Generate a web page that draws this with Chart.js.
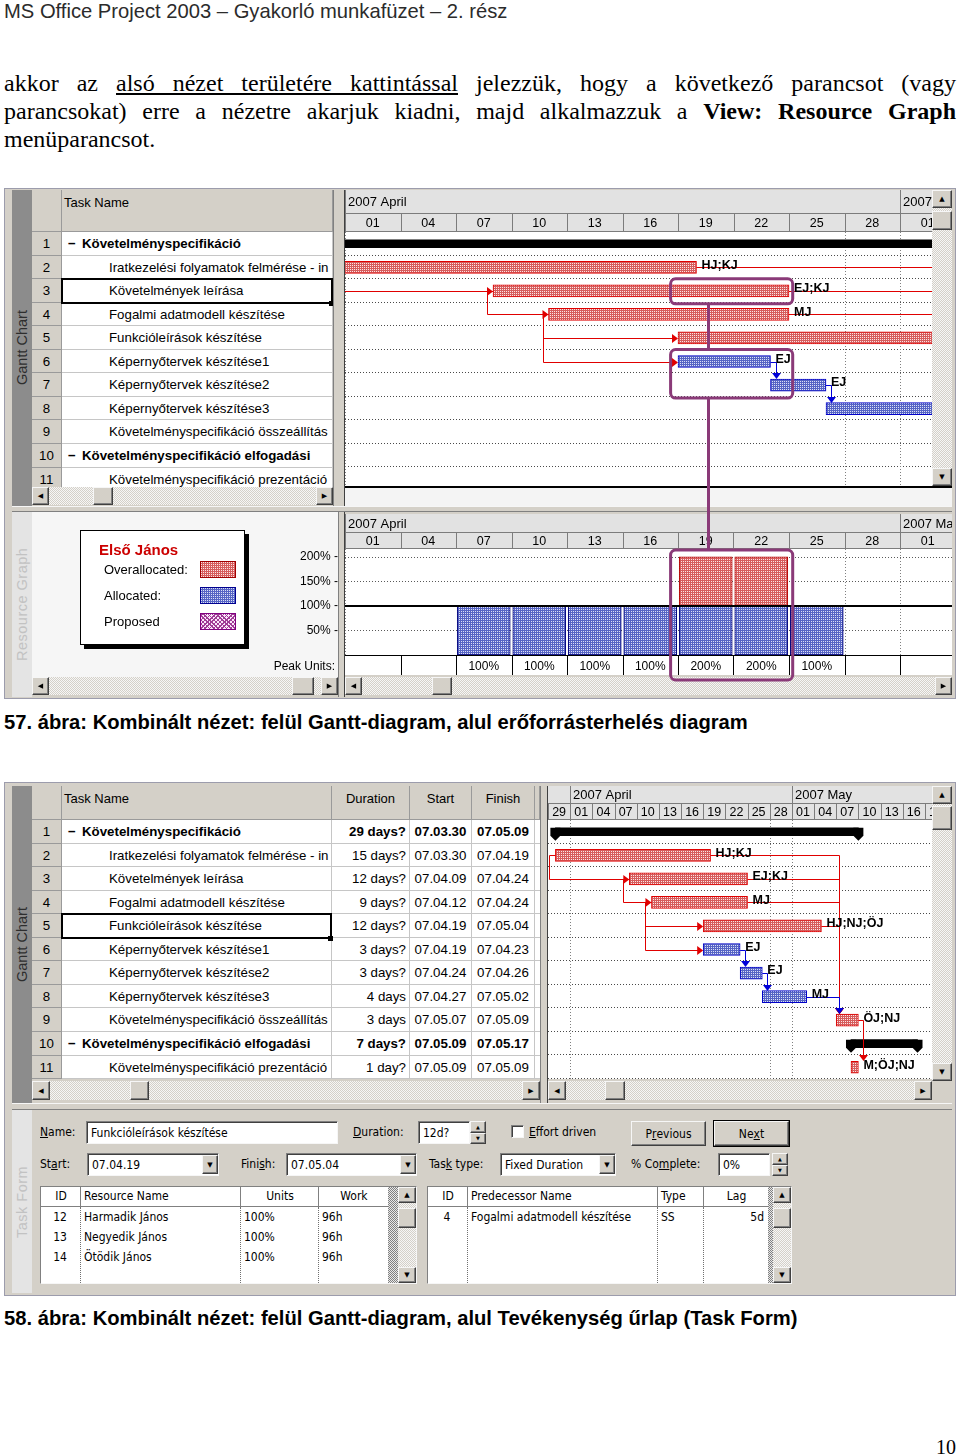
<!DOCTYPE html>
<html lang="hu">
<head>
<meta charset="utf-8">
<title>Kombinált nézet – Gantt-diagram és erőforrásterhelés</title>
<script src="https://cdn.jsdelivr.net/npm/chart.js@4.4.0/dist/chart.umd.min.js"></script>
<style>
  html, body { margin: 0; padding: 0; background: #fff; }
  body { position: relative; width: 960px; height: 1456px; overflow: hidden; font-family: "Liberation Sans", Arial, sans-serif; color: #000; }
  .abs { position: absolute; box-sizing: border-box; }
  .head { font-size: 20.2px; color: #2b2b2b; white-space: nowrap; line-height: 22px; }
  .para { font-family: "Liberation Serif", "Times New Roman", serif; font-size: 24px; line-height: 28px; text-align: justify; text-align-last: justify; }
  .para.last { text-align-last: left; }
  .caption { font-size: 20.2px; font-weight: bold; white-space: nowrap; line-height: 26px; }
  .pnum { font-family: "Liberation Serif", serif; font-size: 20px; }
  .frame { background: #d4d0c8; border: 1px solid #9c9cac; }
  .tab { font-size: 14.5px; display: flex; align-items: center; justify-content: center; writing-mode: vertical-rl; transform: rotate(180deg); white-space: nowrap; }
  .tabDark { background: #8c8c8c; color: #2e2e2e; }
  .tabLight { background: #e4e4e4; color: #c2c2c2; letter-spacing: 0.5px; }
  .tbl { overflow: hidden; background: #d4d0c8; }
  .hd { background: #d4d0c8; border-right: 1px solid #9a9a9a; border-bottom: 1px solid #9a9a9a; font-size: 13px; padding: 5px 2px 0; white-space: nowrap; overflow: hidden; }
  .hd.c { text-align: center; }
  .cell { background: #fff; border-right: 1px solid #c6c6c6; border-bottom: 1px solid #c6c6c6; font-size: 13.3px; white-space: nowrap; overflow: hidden; padding: 0 3px; }
  .cell.idc { background: #d4d0c8; border-color: #9a9a9a; text-align: center; font-weight: normal; }
  .cell.nm { padding-left: 47px; }
  .cell.nm.b { padding-left: 6px; }
  .cell.r { text-align: right; }
  .cell.c { text-align: center; padding: 0; }
  .b { font-weight: bold; }
  .minus { display: inline-block; width: 14px; }
  .sel { border: 2px solid #000; }
  .selh { background: #000; }
  .track { background: repeating-conic-gradient(#d4d0c8 0 25%, #f6f6f6 0 50%) 0 0 / 2px 2px; }
  .btn { background: #d4d0c8; border: 1px solid; border-color: #f6f6f6 #404040 #404040 #f6f6f6; box-shadow: inset -1px -1px 0 #808080; font-family: "DejaVu Sans", sans-serif; font-size: 7px; display: flex; align-items: center; justify-content: center; color: #000; }
  .frm { font-family: "DejaVu Sans Condensed", "Liberation Sans Narrow", "Liberation Sans", sans-serif; font-size: 12px; white-space: nowrap; line-height: 16px; }
  .field { background: #fff; border: 1px solid; border-color: #808080 #f6f6f6 #f6f6f6 #808080; box-shadow: inset 1px 1px 0 #404040; padding-left: 4px; display: flex; align-items: center; }
  .pbtn { background: #d4d0c8; border: 1px solid; border-color: #f6f6f6 #404040 #404040 #f6f6f6; box-shadow: inset -1px -1px 0 #808080; display: flex; align-items: center; justify-content: center; }
  .grid { background: #fff; border: 1px solid; border-color: #808080 #f6f6f6 #f6f6f6 #808080; }
  .gcol { border-left: 1px dotted #707070; }
  .legend { background: #fff; border: 1px solid #000; box-shadow: 4px 4px 0 #000; }
  .lg { font-size: 13px; white-space: nowrap; }
  .sw { border: 1px solid #a00000; }
</style>
</head>
<body>
<script>
// ---------- tasks ----------
const taskIds = [1, 2, 3, 4, 5, 6, 7, 8, 9, 10, 11];
const taskNames = [
  "Követelményspecifikáció",
  "Iratkezelési folyamatok felmérése - in",
  "Követelmények leírása",
  "Fogalmi adatmodell készítése",
  "Funkcióleírások készítése",
  "Képernyőtervek készítése1",
  "Képernyőtervek készítése2",
  "Képernyőtervek készítése3",
  "Követelményspecifikáció összeállítás",
  "Követelményspecifikáció elfogadási",
  "Követelményspecifikáció prezentáció"
];
const taskSummary = [true, false, false, false, false, false, false, false, false, true, false];
const taskCritical = [true, true, true, true, true, false, false, false, true, true, true];
const taskDurations = ["29 days?", "15 days?", "12 days?", "9 days?", "12 days?", "3 days?", "3 days?", "4 days", "3 days", "7 days?", "1 day?"];
const taskStarts = ["07.03.30", "07.03.30", "07.04.09", "07.04.12", "07.04.19", "07.04.19", "07.04.24", "07.04.27", "07.05.07", "07.05.09", "07.05.09"];
const taskFinishes = ["07.05.09", "07.04.19", "07.04.24", "07.04.24", "07.05.04", "07.04.23", "07.04.26", "07.05.02", "07.05.09", "07.05.17", "07.05.09"];
const resourceLabels = ["", "HJ;KJ", "EJ;KJ", "MJ", "HJ;NJ;ÖJ", "EJ", "EJ", "MJ", "ÖJ;NJ", "", "M;ÖJ;NJ"];

// task links
const linkFrom = [2, 3, 4, 4, 6, 7, 2, 3, 4, 5, 8, 9];
const linkTo   = [3, 4, 5, 6, 7, 8, 9, 9, 9, 9, 9, 11];
const linkType = ["SS", "SS", "SS", "SS", "FS", "FS", "FS", "FS", "FS", "FS", "FS", "FS"];

// timescale (days counted from 2007-04-01)
const monthLabels = ["2007 April", "2007 May"];
const monthStartDays = [0, 30];
const dayTickDays = [-3, 0, 3, 6, 9, 12, 15, 18, 21, 24, 27, 30, 33, 36, 39, 42, 45, 48];
const dayTickLabels = ["29", "01", "04", "07", "10", "13", "16", "19", "22", "25", "28", "01", "04", "07", "10", "13", "16", "19"];
const markerDays = [0, 27, 30];

// resource graph: Első János
const resourceName = "Első János";
const bucketDays = [0, 3, 6, 9, 12, 15, 18, 21, 24, 27, 30];
const allocatedUnits = [0, 0, 100, 100, 100, 100, 100, 100, 100, 0, 0];
const overUnits = [0, 0, 0, 0, 0, 0, 100, 100, 0, 0, 0];
const unitTicks = [50, 100, 150, 200];

// highlight frames drawn on figure 57
const highlightDays = [17.6, 24.2];
const highlightRows = [[3, 3], [6, 7]];
const connectorDay = 19.6;

// task form
const formResIds = [12, 13, 14];
const formResNames = ["Harmadik János", "Negyedik János", "Ötödik János"];
const formResUnits = ["100%", "100%", "100%"];
const formResWork = ["96h", "96h", "96h"];
const formPredIds = [4];
const formPredNames = ["Fogalmi adatmodell készítése"];
const formPredTypes = ["SS"];
const formPredLags = ["5d"];

const DAY0 = Date.UTC(2007, 3, 1);
function dayOf(s) {
  const [yy, mm, dd] = s.split('.').map(Number);
  return (Date.UTC(2000 + yy, mm - 1, dd) - DAY0) / 864e5;
}
const barStart = taskStarts.map(dayOf);
const barEnd = taskFinishes.map(s => dayOf(s) + 1);

const body = document.body;
function box(parent, x, y, w, h, cls, html, css) {
  const d = document.createElement('div');
  d.className = 'abs' + (cls ? ' ' + cls : '');
  Object.assign(d.style, { left: x + 'px', top: y + 'px', width: w + 'px', height: h + 'px' }, css || {});
  if (html != null) d.innerHTML = html;
  parent.appendChild(d);
  return d;
}

function hscroll(x, y, w, h, tx, tw) {
  box(body, x, y, w, h, 'track');
  box(body, x, y, h - 1, h, 'btn', '◀');
  box(body, x + w - h + 1, y, h - 1, h, 'btn', '▶');
  if (tw) box(body, tx, y, tw, h, 'btn');
}
function vscroll(x, y, w, h, ty, th) {
  box(body, x, y, w, h, 'track');
  box(body, x, y, w, w - 2, 'btn', '▲');
  box(body, x, y + h - w + 2, w, w - 2, 'btn', '▼');
  if (th) box(body, x, ty, w, th, 'btn');
}

// dotted bar fill: colour with a light dot every 2 px
function hatch(fg, dot) {
  const t = document.createElement('canvas');
  t.width = t.height = 2;
  const g = t.getContext('2d');
  g.fillStyle = fg; g.fillRect(0, 0, 2, 2);
  g.fillStyle = dot; g.fillRect(1, 1, 1, 1);
  return g.createPattern(t, 'repeat');
}
const redFill = hatch('#d65c5c', '#fbe4e4');
const blueFill = hatch('#5664c4', '#dadef6');

function canvasAt(x, y, w, h, clipH) {
  const wrap = box(body, x, y, w, clipH || h, '', null, { overflow: 'hidden' });
  const c = document.createElement('canvas');
  c.width = w; c.height = h;
  c.style.display = 'block';
  wrap.appendChild(c);
  return c;
}

// ---------- text of the page ----------
box(body, 4, 0, 900, 24, 'head', 'MS Office Project 2003 – Gyakorló munkafüzet – 2. rész');
box(body, 4, 69, 952, 28, 'para', 'akkor az <u>alsó nézet területére kattintással</u> jelezzük, hogy a következő parancsot (vagy');
box(body, 4, 97, 952, 28, 'para', 'parancsokat) erre a nézetre akarjuk kiadni, majd alkalmazzuk a <b>View: Resource Graph</b>');
box(body, 4, 125, 952, 28, 'para last', 'menüparancsot.');
box(body, 4, 709, 950, 26, 'caption', '57. ábra: Kombinált nézet: felül Gantt-diagram, alul erőforrásterhelés diagram');
box(body, 4, 1305, 950, 26, 'caption', '58. ábra: Kombinált nézet: felül Gantt-diagram, alul Tevékenység űrlap (Task Form)');
box(body, 936, 1436, 24, 24, 'pnum', '10');

// ---------- task sheet ----------
function nameCell(i) {
  return taskSummary[i] ? '<span class="minus">−</span>' + taskNames[i] : taskNames[i];
}
function taskTable(x0, y0, headH, rowH, cols, visibleH, selRow) {
  const width = cols.reduce((s, c) => s + c.w, 0);
  const wrap = box(body, x0, y0, width, visibleH, 'tbl');
  let cx = 0;
  cols.forEach(c => {
    box(wrap, cx, 0, c.w, headH, 'hd' + (c.hc ? ' c' : ''), c.head);
    taskIds.forEach((id, i) => {
      const top = Math.round(headH + i * rowH), bot = Math.round(headH + (i + 1) * rowH);
      const cell = box(wrap, cx, top, c.w, bot - top, 'cell ' + c.cls + (taskSummary[i] ? ' b' : ''), c.cell(i));
      cell.style.lineHeight = (bot - top) + 'px';
    });
    cx += c.w;
  });
  if (selRow) {
    const sx = cols[0].w, top = Math.round(headH + (selRow - 1) * rowH) - 1;
    box(wrap, sx - 1, top, cols[1].w + 1, Math.round(rowH) + 2, 'sel');
    box(wrap, sx + cols[1].w - 4, top + Math.round(rowH) - 1, 5, 5, 'selh');
  }
}
const idCol = { w: 30, head: '', cls: 'idc', cell: i => taskIds[i] };

// ---------- gantt drawing ----------
function drawTimescale(chart, h1, h2) {
  const { ctx, chartArea: a, scales: { x } } = chart;
  const t0 = a.top - h1 - h2, mid = t0 + h1, w = a.right - a.left;
  ctx.save();
  ctx.beginPath(); ctx.rect(a.left, t0, w, h1 + h2); ctx.clip();
  ctx.fillStyle = '#e2e2e2'; ctx.fillRect(a.left, t0, w, h1 + h2);
  ctx.fillStyle = '#7c7c7c';
  ctx.fillRect(a.left, mid, w, 1);
  ctx.fillRect(a.left, a.top - 1, w, 1);
  ctx.textBaseline = 'middle';
  ctx.font = '13px "Liberation Sans", Arial, sans-serif';
  ctx.textAlign = 'left';
  monthStartDays.forEach((d, i) => {
    const p = Math.round(x.getPixelForValue(d));
    ctx.fillStyle = '#7c7c7c'; ctx.fillRect(p, t0, 1, h1);
    ctx.fillStyle = '#000'; ctx.fillText(monthLabels[i], Math.max(p, a.left) + 3, t0 + h1 / 2 + 1);
  });
  ctx.textAlign = 'center';
  ctx.font = '12.5px "Liberation Sans", Arial, sans-serif';
  dayTickDays.forEach((d, i) => {
    const p1 = x.getPixelForValue(d), p2 = x.getPixelForValue(d + 3);
    ctx.fillStyle = '#7c7c7c'; ctx.fillRect(Math.round(p1), mid, 1, h2);
    ctx.fillStyle = '#000'; ctx.fillText(dayTickLabels[i], (p1 + p2) / 2, mid + h2 / 2 + 1);
  });
  ctx.restore();
}

function drawLink(ctx, x, y, a, b, type) {
  const col = taskCritical[a] ? '#e00000' : '#0000d8';
  ctx.strokeStyle = col; ctx.fillStyle = col; ctx.lineWidth = 1; ctx.setLineDash([]);
  const ya = Math.round(y.getPixelForValue(a)) + 0.5;
  const yb = Math.round(y.getPixelForValue(b)) + 0.5;
  ctx.beginPath();
  if (type === 'SS') {
    const xa = x.getPixelForValue(barStart[a]);
    const xb = x.getPixelForValue(barStart[b]);
    const xv = Math.round(xa - 6) + 0.5;
    ctx.moveTo(xa, ya); ctx.lineTo(xv, ya); ctx.lineTo(xv, yb); ctx.lineTo(xb - 5, yb);
    ctx.stroke();
    ctx.beginPath(); ctx.moveTo(xb, yb); ctx.lineTo(xb - 6, yb - 4.5); ctx.lineTo(xb - 6, yb + 4.5);
    ctx.closePath(); ctx.fill();
  } else {
    const xa = x.getPixelForValue(barEnd[a]);
    const xv = Math.round(Math.max(xa + 5, x.getPixelForValue(barStart[b]) + 3)) + 0.5;
    const tb = yb - 6.5;
    ctx.moveTo(xa, ya); ctx.lineTo(xv, ya); ctx.lineTo(xv, tb - 5);
    ctx.stroke();
    ctx.beginPath(); ctx.moveTo(xv, tb); ctx.lineTo(xv - 4.5, tb - 6); ctx.lineTo(xv + 4.5, tb - 6);
    ctx.closePath(); ctx.fill();
  }
}

const ganttPlugin = {
  id: 'gantt',
  beforeDatasetsDraw(chart) {
    const { ctx, chartArea: a, scales: { x } } = chart;
    ctx.save();
    ctx.fillStyle = '#fff';
    ctx.fillRect(a.left, a.top, a.width, a.height);
    ctx.beginPath(); ctx.rect(a.left, a.top, a.width, a.height); ctx.clip();
    const rh = a.height / taskIds.length;
    ctx.strokeStyle = '#4a4a4a'; ctx.lineWidth = 1; ctx.setLineDash([1, 2]);
    for (let i = 1; i <= taskIds.length; i++) {
      const yy = Math.round(a.top + i * rh) - 0.5;
      ctx.beginPath(); ctx.moveTo(a.left, yy); ctx.lineTo(a.right, yy); ctx.stroke();
    }
    ctx.strokeStyle = '#808080';
    markerDays.forEach(d => {
      const xx = Math.round(x.getPixelForValue(d)) + 0.5;
      ctx.beginPath(); ctx.moveTo(xx, a.top); ctx.lineTo(xx, a.bottom); ctx.stroke();
    });
    ctx.restore();
  },
  afterDatasetsDraw(chart) {
    const { ctx, chartArea: a, scales: { x, y } } = chart;
    ctx.save();
    ctx.beginPath(); ctx.rect(a.left, a.top, a.width, a.height); ctx.clip();
    ctx.fillStyle = '#000';
    taskIds.forEach((id, i) => {
      if (!taskSummary[i]) return;
      const yc = y.getPixelForValue(i), t = yc - 4, b = yc + 4;
      [barStart[i], barEnd[i]].forEach(d => {
        const p = x.getPixelForValue(d);
        ctx.beginPath();
        ctx.moveTo(p - 5, t); ctx.lineTo(p + 5, t); ctx.lineTo(p + 5, b); ctx.lineTo(p, b + 5); ctx.lineTo(p - 5, b);
        ctx.closePath(); ctx.fill();
      });
    });
    linkFrom.forEach((f, k) => drawLink(ctx, x, y, f - 1, linkTo[k] - 1, linkType[k]));
    ctx.fillStyle = '#000';
    ctx.font = 'bold 12.5px "Liberation Sans", Arial, sans-serif';
    ctx.textBaseline = 'middle'; ctx.textAlign = 'left';
    taskIds.forEach((id, i) => {
      if (resourceLabels[i]) ctx.fillText(resourceLabels[i], x.getPixelForValue(barEnd[i]) + 5, y.getPixelForValue(i) - 2);
    });
    ctx.restore();
  },
  afterDraw(chart, args, o) {
    drawTimescale(chart, o.h1, o.h2);
  }
};

function makeGantt(canvas, minDay, dayPx, h1, h2) {
  const pick = test => taskIds.map((id, i) => (test(i) ? [barStart[i], barEnd[i]] : null));
  return new Chart(canvas, {
    type: 'bar',
    data: {
      labels: taskIds.map(String),
      datasets: [
        { data: pick(i => taskSummary[i]), backgroundColor: '#000', barThickness: 8, grouped: false, borderSkipped: false },
        { data: pick(i => !taskSummary[i] && taskCritical[i]), backgroundColor: redFill, borderColor: '#e00000', borderWidth: 1, barThickness: 12, grouped: false, borderSkipped: false },
        { data: pick(i => !taskSummary[i] && !taskCritical[i]), backgroundColor: blueFill, borderColor: '#0000c8', borderWidth: 1, barThickness: 12, grouped: false, borderSkipped: false }
      ]
    },
    options: {
      indexAxis: 'y', responsive: false, animation: false, events: [],
      layout: { padding: { top: h1 + h2, left: 0, right: 0, bottom: 0 } },
      scales: {
        x: { type: 'linear', min: minDay, max: minDay + canvas.width / dayPx, display: false, offset: false },
        y: { display: false }
      },
      plugins: { legend: { display: false }, tooltip: { enabled: false }, gantt: { h1, h2 } }
    },
    plugins: [ganttPlugin]
  });
}

// ---------- resource graph ----------
const resourcePlugin = {
  id: 'resgraph',
  beforeDatasetsDraw(chart) {
    const { ctx, chartArea: a, scales: { x, y } } = chart;
    ctx.save();
    ctx.fillStyle = '#fff';
    ctx.fillRect(a.left, a.top, a.width, a.height);
    ctx.strokeStyle = '#5a5a5a'; ctx.lineWidth = 1; ctx.setLineDash([1, 2]);
    unitTicks.filter(v => v !== 100).forEach(v => {
      const yy = Math.round(y.getPixelForValue(v)) + 0.5;
      ctx.beginPath(); ctx.moveTo(a.left, yy); ctx.lineTo(a.right, yy); ctx.stroke();
    });
    ctx.strokeStyle = '#808080';
    markerDays.forEach(d => {
      const xx = Math.round(x.getPixelForValue(d)) + 0.5;
      ctx.beginPath(); ctx.moveTo(xx, a.top); ctx.lineTo(xx, a.bottom); ctx.stroke();
    });
    ctx.restore();
  },
  afterDatasetsDraw(chart) {
    const { ctx, chartArea: a, scales: { y } } = chart;
    ctx.fillStyle = '#000';
    ctx.fillRect(a.left, Math.round(y.getPixelForValue(100)) - 1, a.width, 2);
  },
  afterDraw(chart, args, o) {
    const { ctx, chartArea: a, scales: { x, y } } = chart;
    drawTimescale(chart, o.h1, o.h2);
    const top = a.bottom + 1, h = 19;
    ctx.save();
    ctx.fillStyle = '#fff'; ctx.fillRect(a.left, top, a.width, h);
    ctx.fillStyle = '#000'; ctx.fillRect(a.left, a.bottom, a.width, 1);
    ctx.font = '12px "Liberation Sans", Arial, sans-serif';
    ctx.textBaseline = 'middle'; ctx.textAlign = 'center';
    bucketDays.forEach((d, i) => {
      const p1 = x.getPixelForValue(d), p2 = x.getPixelForValue(d + 3);
      ctx.fillStyle = '#000';
      if (d > 0) ctx.fillRect(Math.round(p1), top, 1, h);
      const peak = allocatedUnits[i] + overUnits[i];
      if (peak > 0) ctx.fillText(peak + '%', (p1 + p2) / 2, top + h / 2 + 1);
    });
    ctx.textAlign = 'right';
    unitTicks.forEach(v => ctx.fillText(v + '% -', a.left - 7, y.getPixelForValue(v)));
    ctx.fillText('Peak Units:', a.left - 10, top + h / 2 + 1);
    ctx.restore();
  }
};

function makeResourceGraph(canvas, left, dayPx) {
  const thick = 3 * dayPx - 2.5;
  const blue = bucketDays.map((d, i) => ({ x: d + 1.5, y: allocatedUnits[i] })).filter(p => p.y > 0);
  const red = bucketDays.map((d, i) => ({ x: d + 1.5, y: [allocatedUnits[i], allocatedUnits[i] + overUnits[i]] })).filter(p => p.y[1] > p.y[0]);
  return new Chart(canvas, {
    type: 'bar',
    data: {
      datasets: [
        { data: blue, backgroundColor: blueFill, borderColor: '#00007a', borderWidth: 1, barThickness: thick, grouped: false, borderSkipped: false },
        { data: red, backgroundColor: redFill, borderColor: '#b40000', borderWidth: 1, barThickness: thick, grouped: false, borderSkipped: false }
      ]
    },
    options: {
      responsive: false, animation: false, events: [],
      layout: { padding: { top: 35, left: left, right: 0, bottom: 29 } },
      scales: {
        x: { type: 'linear', min: 0, max: (canvas.width - left) / dayPx, display: false, offset: false },
        y: { min: 0, max: 216, display: false }
      },
      plugins: { legend: { display: false }, tooltip: { enabled: false }, resgraph: { h1: 18, h2: 17 } }
    },
    plugins: [resourcePlugin]
  });
}

// ================= figure 57 =================
box(body, 4, 188, 952, 511, 'frame');
box(body, 12, 190, 20, 316, 'tab tabDark', 'Gantt Chart');
taskTable(32, 190, 42, 23.55, [idCol, { w: 271, head: 'Task Name', cls: 'nm', cell: nameCell }], 297, 3);
box(body, 333, 190, 12, 316, '', null, { background: '#d4d0c8', borderLeft: '1px solid #808080', borderRight: '1px solid #404040' });
const topGantt = makeGantt(canvasAt(345, 190, 587, 301, 296), 0, 18.5, 23, 19);
vscroll(932, 190, 20, 296, 211, 19);
hscroll(32, 487, 301, 18, 93, 20);
box(body, 345, 486, 607, 20, '', null, { background: '#f4f4f4', borderTop: '2px solid #000' });
box(body, 12, 506, 940, 6, '', null, { background: '#d4d0c8', borderTop: '1px solid #f6f6f6', borderBottom: '1px solid #808080' });

box(body, 12, 512, 20, 185, 'tab tabLight', 'Resource Graph');
box(body, 32, 512, 306, 165, '', null, { background: '#f6f6f6' });
const resGraph = makeResourceGraph(canvasAt(240, 514, 712, 170), 105, 18.5);
const lg = box(body, 80, 530, 165, 115, 'legend');
box(lg, 18, 10, 140, 18, 'b', resourceName, { color: '#cc0000', fontSize: '15px' });
box(lg, 23, 31, 100, 16, 'lg', 'Overallocated:');
box(lg, 23, 57, 100, 16, 'lg', 'Allocated:');
box(lg, 23, 83, 100, 16, 'lg', 'Proposed');
box(lg, 119, 30, 36, 17, 'sw', null, { background: 'repeating-conic-gradient(#d65c5c 0 75%, #fbe4e4 0 100%) 0 0 / 2px 2px' });
box(lg, 119, 56, 36, 17, 'sw', null, { borderColor: '#000090', background: 'repeating-conic-gradient(#5664c4 0 75%, #dadef6 0 100%) 0 0 / 2px 2px' });
box(lg, 119, 82, 36, 17, 'sw', null, { borderColor: '#800080', background: 'repeating-linear-gradient(45deg, #a03c96 0 1px, transparent 1px 3px), repeating-linear-gradient(-45deg, #a03c96 0 1px, #fbe6fb 1px 3px)' });
box(body, 338, 512, 7, 185, '', null, { background: '#d4d0c8', borderLeft: '1px solid #808080', borderRight: '1px solid #404040' });
hscroll(32, 677, 306, 18, 292, 22);
hscroll(345, 677, 607, 18, 432, 20);

// highlight frames over figure 57
(function drawHighlights() {
  const ov = document.createElement('canvas');
  ov.width = 960; ov.height = 720;
  Object.assign(ov.style, { position: 'absolute', left: '0px', top: '0px', pointerEvents: 'none' });
  body.appendChild(ov);
  const g = ov.getContext('2d');
  const tr = topGantt.canvas.getBoundingClientRect();
  const rr = resGraph.canvas.getBoundingClientRect();
  const xs = topGantt.scales.x, ys = topGantt.scales.y;
  const x1 = tr.left + xs.getPixelForValue(highlightDays[0]);
  const x2 = tr.left + xs.getPixelForValue(highlightDays[1]);
  const xc = Math.round(tr.left + xs.getPixelForValue(connectorDay)) + 0.5;
  const frames = highlightRows.map(([r1, r2]) => [tr.top + ys.getPixelForValue(r1 - 1) - 12, tr.top + ys.getPixelForValue(r2 - 1) + 13]);
  frames.push([rr.top + resGraph.chartArea.top + 1, rr.top + resGraph.chartArea.bottom + 25]);
  g.strokeStyle = '#8a3a78'; g.lineWidth = 3;
  for (let k = 1; k < frames.length; k++) {
    g.beginPath(); g.moveTo(xc, frames[k - 1][1]); g.lineTo(xc, frames[k][0]); g.stroke();
  }
  frames.forEach(([t, b]) => {
    g.beginPath(); g.roundRect(x1, t, x2 - x1, b - t, 5); g.stroke();
  });
})();

// ================= figure 58 =================
box(body, 4, 782, 952, 514, 'frame');
box(body, 12, 786, 20, 317, 'tab tabDark', 'Gantt Chart');
taskTable(32, 786, 34, 23.55, [
  idCol,
  { w: 270, head: 'Task Name', cls: 'nm', cell: nameCell },
  { w: 78, head: 'Duration', hc: true, cls: 'r', cell: i => taskDurations[i] },
  { w: 62, head: 'Start', hc: true, cls: 'c', cell: i => taskStarts[i] },
  { w: 63, head: 'Finish', hc: true, cls: 'c', cell: i => taskFinishes[i] },
  { w: 5, head: '', cls: '', cell: () => '' }
], 294, 5);
box(body, 540, 786, 8, 317, '', null, { background: '#d4d0c8', borderLeft: '1px solid #808080', borderRight: '1px solid #404040' });
makeGantt(canvasAt(548, 786, 384, 293, 294), -3, 7.39, 17, 17);
vscroll(932, 786, 20, 295, 806, 24);
hscroll(32, 1081, 508, 19, 130, 19);
hscroll(548, 1081, 384, 19, 605, 20);
box(body, 12, 1103, 940, 7, '', null, { background: '#d4d0c8', borderTop: '1px solid #f6f6f6', borderBottom: '1px solid #808080' });

// task form
box(body, 12, 1110, 20, 183, 'tab tabLight', 'Task Form');
const lbl = (x, cy, html) => box(body, x, cy - 8, 110, 16, 'frm', html);
function spin(x, y, h) {
  box(body, x, y, 16, h / 2, 'btn', '▲', { fontSize: '5px' });
  box(body, x, y + h / 2, 16, h / 2, 'btn', '▼', { fontSize: '5px' });
}
lbl(40, 1132, '<u>N</u>ame:');
box(body, 86, 1121, 252, 23, 'field frm', 'Funkcióleírások készítése');
lbl(353, 1132, '<u>D</u>uration:');
box(body, 418, 1121, 52, 23, 'field frm', '12d?');
spin(470, 1121, 23);
box(body, 511, 1125, 13, 13, 'field');
lbl(529, 1132, '<u>E</u>ffort driven');
box(body, 631, 1121, 75, 25, 'pbtn frm', 'P<u>r</u>evious');
box(body, 714, 1121, 75, 25, 'pbtn frm', 'Ne<u>x</u>t', { outline: '1px solid #000' });
lbl(40, 1164, 'St<u>a</u>rt:');
box(body, 87, 1153, 132, 23, 'field frm', '07.04.19');
box(body, 202, 1155, 16, 19, 'btn', '▼');
lbl(241, 1164, 'Fini<u>s</u>h:');
box(body, 286, 1153, 131, 23, 'field frm', '07.05.04');
box(body, 400, 1155, 16, 19, 'btn', '▼');
lbl(429, 1164, 'Tas<u>k</u> type:');
box(body, 500, 1153, 116, 23, 'field frm', 'Fixed Duration');
box(body, 599, 1155, 16, 19, 'btn', '▼');
lbl(631, 1164, '% Co<u>m</u>plete:');
box(body, 718, 1153, 52, 23, 'field frm', '0%');
spin(772, 1153, 23);

function formGrid(x0, w, cols, rows, stripX, stripW) {
  box(body, x0, 1186, w, 98, 'grid');
  box(body, x0 + 1, 1206, stripX - x0 - 1, 1, '', null, { background: '#808080' });
  cols.forEach((c, k) => {
    box(body, c.x + 4, 1188, c.w - 6, 16, 'frm', c.head, { textAlign: c.ha || 'left' });
    if (k > 0) {
      box(body, c.x, 1187, 1, 19, '', null, { background: '#808080' });
      box(body, c.x, 1207, 1, 76, 'gcol');
    }
    rows.forEach((r, i) => box(body, c.x + 4, 1209 + i * 20, c.w - 8, 16, 'frm', r[k], { textAlign: c.ba || 'left' }));
  });
  box(body, stripX, 1187, stripW, 96, '', null, { background: 'repeating-conic-gradient(#808080 0 25%, #e8e8e8 0 50%) 0 0 / 2px 2px' });
  vscroll(stripX + stripW, 1187, 18, 96, 1208, 20);
}
formGrid(40, 377, [
  { x: 40, w: 40, head: 'ID', ha: 'center', ba: 'center' },
  { x: 80, w: 160, head: 'Resource Name' },
  { x: 240, w: 78, head: 'Units', ha: 'center' },
  { x: 318, w: 70, head: 'Work', ha: 'center' }
], formResIds.map((id, i) => [id, formResNames[i], formResUnits[i], formResWork[i]]), 388, 10);
formGrid(427, 365, [
  { x: 427, w: 40, head: 'ID', ha: 'center', ba: 'center' },
  { x: 467, w: 190, head: 'Predecessor Name' },
  { x: 657, w: 46, head: 'Type' },
  { x: 703, w: 65, head: 'Lag', ha: 'center', ba: 'right' }
], formPredIds.map((id, i) => [id, formPredNames[i], formPredTypes[i], formPredLags[i]]), 768, 5);
</script>
</body>
</html>
